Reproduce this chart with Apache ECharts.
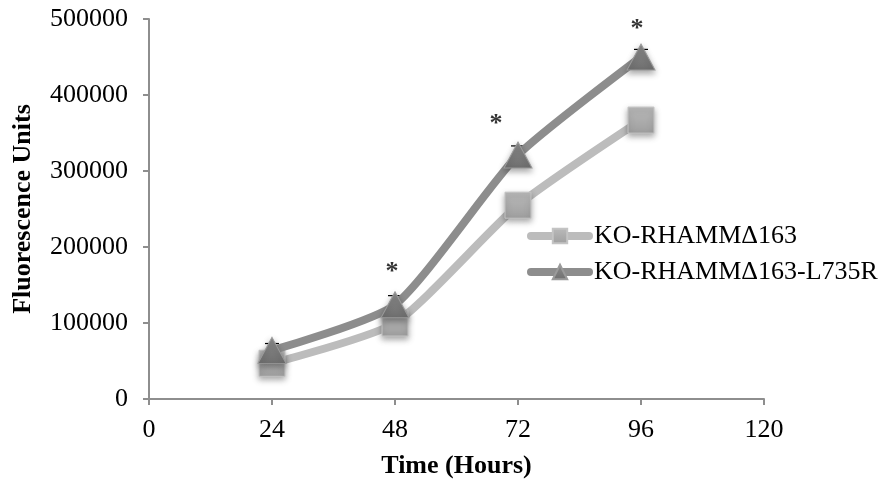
<!DOCTYPE html>
<html>
<head>
<meta charset="utf-8">
<script src="https://cdn.jsdelivr.net/npm/echarts@6/dist/echarts.min.js"></script>
<style>
html,body{margin:0;padding:0;background:#fff;}
#chart{width:887px;height:487px;}
</style>
</head>
<body>
<div id="chart"></div>
<script>
// Time points (hours) and mean fluorescence readings per construct
var hours = [24, 48, 72, 96];
var seriesNames = ['KO-RHAMMΔ163', 'KO-RHAMMΔ163-L735R'];
var wildValues = [47000, 100000, 255000, 367000];
var mutantValues = [64000, 124000, 321000, 450000];
var mutantErrors = [9000, 12000, 12000, 10000];
// Significance markers: [hour, fluorescence] anchor of each asterisk
var starPoints = [[47.4, 167000], [67.7, 362000], [95.2, 487000]];
var xTicks = [0, 24, 48, 72, 96, 120];
var yTicks = [0, 100000, 200000, 300000, 400000, 500000];

var serif = '"Liberation Serif", "Times New Roman", serif';

function pairs(xs, ys) {
  return xs.map(function (x, i) { return [x, ys[i]]; });
}

function grad(top, bottom) {
  return new echarts.graphic.LinearGradient(0, 0, 0, 1, [
    { offset: 0, color: top },
    { offset: 1, color: bottom }
  ]);
}

var chart = echarts.init(document.getElementById('chart'));

chart.setOption({
  animation: false,
  backgroundColor: '#ffffff',
  grid: { left: 149, right: 123, top: 19, bottom: 88, containLabel: false },
  legend: {
    left: 522,
    top: 218,
    orient: 'vertical',
    itemWidth: 58,
    itemHeight: 18,
    itemGap: 10,
    lineStyle: { width: 8, cap: 'round' },
    textStyle: { fontFamily: serif, fontSize: 26, color: '#000' },
    data: seriesNames
  },
  xAxis: {
    type: 'value',
    min: xTicks[0],
    max: xTicks[xTicks.length - 1],
    interval: 24,
    name: 'Time (Hours)',
    nameLocation: 'middle',
    nameGap: 54,
    nameTextStyle: { fontFamily: serif, fontSize: 26, fontWeight: 'bold', color: '#000' },
    axisLine: { lineStyle: { color: '#8e8e8e', width: 2 } },
    axisTick: { show: true, length: 6, lineStyle: { color: '#8e8e8e', width: 2 } },
    axisLabel: { margin: 18, fontFamily: serif, fontSize: 26, color: '#000' },
    splitLine: { show: false }
  },
  yAxis: {
    type: 'value',
    min: yTicks[0],
    max: yTicks[yTicks.length - 1],
    interval: 100000,
    name: 'Fluorescence Units',
    nameLocation: 'middle',
    nameGap: 113,
    nameTextStyle: { fontFamily: serif, fontSize: 26, fontWeight: 'bold', color: '#000' },
    axisLine: { show: true, lineStyle: { color: '#8e8e8e', width: 2 } },
    axisTick: { show: true, length: 6, lineStyle: { color: '#8e8e8e', width: 2 } },
    axisLabel: {
      margin: 21,
      fontFamily: serif,
      fontSize: 26,
      color: '#000',
      formatter: function (v) { return String(v); }
    },
    splitLine: { show: false }
  },
  series: [
    {
      // error caps for the L735R series, drawn beneath its markers
      type: 'custom',
      z: 1,
      silent: true,
      data: hours.map(function (h, i) { return [h, mutantValues[i], mutantErrors[i]]; }),
      renderItem: function (params, api) {
        var x = api.value(0), y = api.value(1), e = api.value(2);
        var hi = api.coord([x, y + e]);
        var lo = api.coord([x, y - e]);
        var w = 7;
        var style = { stroke: '#000', lineWidth: 1.2 };
        return {
          type: 'group',
          children: [
            { type: 'line', shape: { x1: hi[0], y1: hi[1], x2: lo[0], y2: lo[1] }, style: style },
            { type: 'line', shape: { x1: hi[0] - w, y1: hi[1], x2: hi[0] + w, y2: hi[1] }, style: style },
            { type: 'line', shape: { x1: lo[0] - w, y1: lo[1], x2: lo[0] + w, y2: lo[1] }, style: style }
          ]
        };
      }
    },
    {
      name: seriesNames[0],
      type: 'line',
      z: 3,
      smooth: 0.2,
      data: pairs(hours, wildValues),
      symbol: 'rect',
      symbolSize: 26,
      lineStyle: { color: '#bcbcbc', width: 8, cap: 'round' },
      itemStyle: {
        color: grad('#bababa', '#9f9f9f'),
        borderColor: '#c4c4c4',
        borderWidth: 1,
        shadowBlur: 6,
        shadowColor: 'rgba(0,0,0,0.35)',
        shadowOffsetY: 3
      }
    },
    {
      name: seriesNames[1],
      type: 'line',
      z: 4,
      smooth: 0.2,
      data: pairs(hours, mutantValues),
      symbol: 'triangle',
      symbolSize: [28, 26],
      lineStyle: { color: '#8d8d8d', width: 8, cap: 'round' },
      itemStyle: {
        color: grad('#8c8c8c', '#6f6f6f'),
        borderColor: '#9a9a9a',
        borderWidth: 1,
        shadowBlur: 6,
        shadowColor: 'rgba(0,0,0,0.35)',
        shadowOffsetY: 3
      }
    },
    {
      // asterisks marking significant differences
      type: 'scatter',
      z: 5,
      silent: true,
      symbolSize: 1,
      itemStyle: { color: 'rgba(0,0,0,0)' },
      data: starPoints,
      label: {
        show: true,
        position: 'inside',
        formatter: '*',
        fontFamily: serif,
        fontSize: 26,
        fontWeight: 'bold',
        color: '#000'
      }
    }
  ]
});
</script>
</body>
</html>
